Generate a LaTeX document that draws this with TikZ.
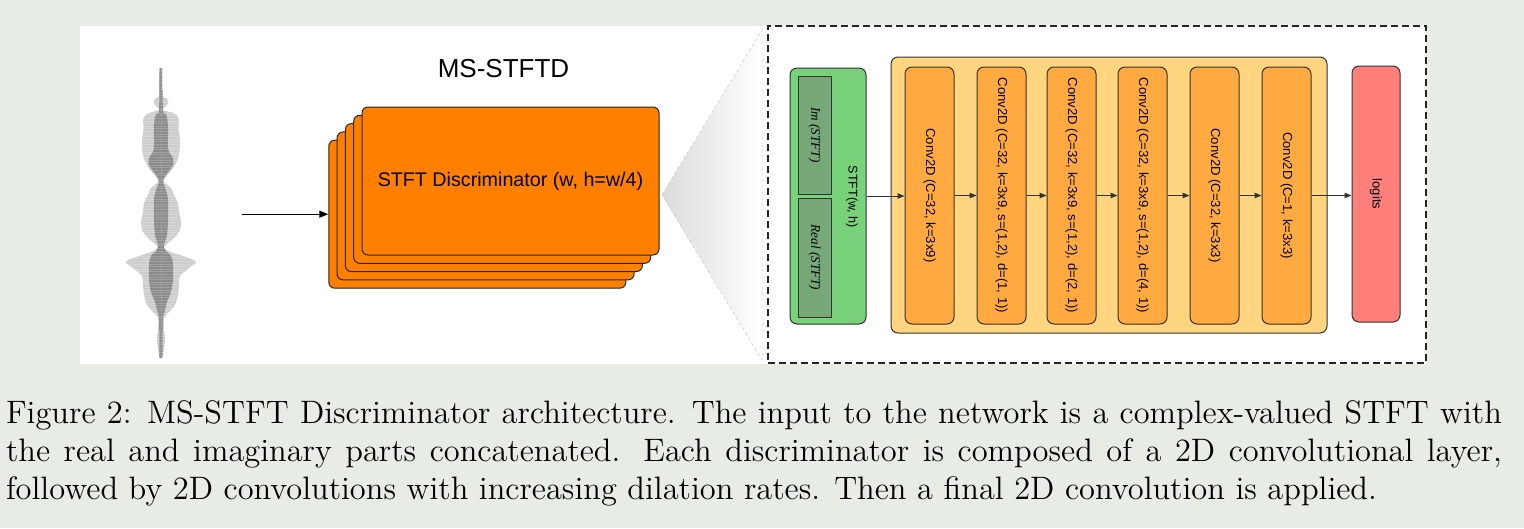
\documentclass[tikz,border=0pt]{standalone}
\usepackage{fontspec}
\setsansfont{Liberation Sans}
\newfontfamily\timesfont{Liberation Serif}
\usetikzlibrary{arrows.meta}
\definecolor{bg}{HTML}{E7EDE4}
\definecolor{edge}{HTML}{333333}
\definecolor{cardor}{HTML}{FF7F00}
\definecolor{stftgreen}{HTML}{77D27A}
\definecolor{ingreen}{HTML}{76A878}
\definecolor{contyellow}{HTML}{FFD580}
\definecolor{convor}{HTML}{FFAA40}
\definecolor{logitred}{HTML}{FF7F7B}
\definecolor{wavelight}{HTML}{CDCDCD}
\definecolor{wavedark}{HTML}{8A8A8A}
\newlength\capw
\newsavebox\capmeasure
\begin{document}
\sbox\capmeasure{\fontsize{12}{14.5}\selectfont followed by 2D convolutions with increasing dilation rates. Then a final 2D convolution is applied.}%
\setlength\capw{\wd\capmeasure}%
\pgfmathsetmacro\capscale{1371/\capw}%
\pgfmathsetlengthmacro\capfull{1496pt/\capscale}%
\begin{tikzpicture}[x=1pt,y=-1pt,
  bx/.style={draw=edge, line width=1pt, rounded corners=7pt, inner sep=0pt},
  card/.style={draw=black!85, line width=1pt, fill=cardor, rounded corners=6pt,
    minimum width=297pt, minimum height=148pt, inner sep=0pt},
  conv/.style={bx, fill=convor, minimum width=49pt, minimum height=257pt,
    font=\sffamily\fontsize{13.1}{15}\selectfont},
  inbox/.style={draw=edge, line width=1pt, fill=ingreen, minimum width=33pt,
    inner sep=0pt, font=\timesfont\itshape\fontsize{13.2}{15}\selectfont},
  lbl/.style={inner sep=0pt, font=\sffamily\fontsize{12.6}{15}\selectfont},
  arr/.style={-{Triangle[length=7pt,width=5.5pt]}, draw=edge, line width=1pt},
  capline/.style={anchor=base west, inner sep=0pt, outer sep=0pt}]
\useasboundingbox (0,0) rectangle (1524,528);
\fill[bg] (0,0) rectangle (1524,528);
\fill[white] (80,26) rectangle (1426,364);

% waveform
\foreach \s in {1,-1}{
  \begin{scope}[shift={(161,0)}, xscale=\s]
    \begin{scope}
      \clip (-0.4,68) -- plot[smooth,tension=0.55] coordinates {(1.5,68) (2,95) (5,98) (7.5,102) (5,106) (2,110) (12,113) (17.5,118) (17.5,130) (19,140) (18,155) (14,165) (9,172) (4,178) (3,182) (10,188) (13,195) (17,203) (18,212) (20,222) (19,230) (13,238) (6,244) (3,248) (10,252) (25,257) (35,262) (28,268) (19,276) (18,285) (17,295) (14,305) (8,312) (3,318) (3,330) (4,340) (1.5,358)} -- (-0.4,358) -- cycle;
      \fill[wavelight] (-1,60) rectangle (40,365);
      \fill[wavedark] (-0.4,68) -- plot[smooth,tension=0.55] coordinates {(1.5,68) (2,110) (5,114) (7,125) (7,145) (8,152) (12,158) (12,165) (8,171) (3,178) (2,182) (5,190) (7,200) (7,220) (6,235) (3,245) (4,250) (10,256) (12,265) (12,280) (10,292) (6,302) (4,310) (2,320) (1.5,358)} -- (-0.4,358) -- cycle;
      \foreach \yy in {69,71.6,...,357} \draw[white,opacity=0.2,line width=0.8pt] (-1,\yy) -- (40,\yy);
    \end{scope}
  \end{scope}
}

% title and stacked cards
\node[font=\sffamily\fontsize{26}{30}\selectfont, inner sep=0pt] (title) at (503.5,69) {MS-STFTD};
\node[card] (c5) at (477.3,214.2) {};
\node[card] (c4) at (485.6,205.9) {};
\node[card] (c3) at (493.9,197.6) {};
\node[card] (c2) at (502.2,189.3) {};
\node[card, font=\sffamily\fontsize{19.7}{23}\selectfont] (c1) at (510.5,181) {STFT Discriminator (w, h=w/4)};
\coordinate (wavein) at (242,214.2);
\draw[-{Triangle[length=9pt,width=7pt]}, line width=1.2pt] (wavein) -- (c5.west);

% zoom wedge
\coordinate (wtip) at (662,195);
\coordinate (wtop) at (762,30);
\coordinate (wbot) at (762,360);
\shade[left color=black!14, right color=white] (wtip) -- (wtop) -- (wbot) -- cycle;
\draw[black!22, dashed, line width=0.5pt] (wtip) -- (wtop) -- (wbot) -- cycle;

% detail box
\node[draw=black!85, dash pattern=on 7pt off 4pt, line width=1.3pt, minimum width=658pt, minimum height=337pt, inner sep=0pt] (zoombox) at (1097,194.5) {};

\node[bx, fill=stftgreen, minimum width=76pt, minimum height=256pt] (green) at (828,196) {};
\node[inbox, minimum height=118pt] (im) at (814.5,135) {\rotatebox{-90}{Im (STFT)}};
\node[inbox, minimum height=119pt] (re) at (814.5,257.5) {\rotatebox{-90}{Real (STFT)}};
\node[lbl] (stftlbl) at (852,197) {\rotatebox{-90}{STFT(w, h)}};

\node[bx, fill=contyellow, minimum width=436pt, minimum height=276pt] (cont) at (1109,195) {};
\node[conv] (k1) at (929.5,195.5) {\rotatebox{-90}{Conv2D (C=32, k=3x9)}};
\node[conv] (k2) at (1001.5,195.5) {\rotatebox{-90}{Conv2D (C=32, k=3x9, s=(1,2), d=(1, 1))}};
\node[conv] (k3) at (1071.5,195.5) {\rotatebox{-90}{Conv2D (C=32, k=3x9, s=(1,2), d=(2, 1))}};
\node[conv] (k4) at (1142.5,195.5) {\rotatebox{-90}{Conv2D (C=32, k=3x9, s=(1,2), d=(4, 1))}};
\node[conv] (k5) at (1214.5,195.5) {\rotatebox{-90}{Conv2D (C=32, k=3x3)}};
\node[conv] (k6) at (1286.5,195.5) {\rotatebox{-90}{Conv2D (C=1, k=3x3)}};
\node[bx, fill=logitred, minimum width=48pt, minimum height=256pt, font=\sffamily\fontsize{13.1}{15}\selectfont] (logits) at (1376,194) {\rotatebox{-90}{logits}};

\draw[arr] (green.east) -- (green.east -| k1.west);
\draw[arr] (k1.east) -- (k2.west);
\draw[arr] (k2.east) -- (k3.west);
\draw[arr] (k3.east) -- (k4.west);
\draw[arr] (k4.east) -- (k5.west);
\draw[arr] (k5.east) -- (k6.west);
\draw[arr] (k6.east) -- (k6.east -| logits.west);

% caption
\node[capline] (cap1) at (6,423) {\scalebox{\capscale}{\fontsize{12}{14.5}\selectfont\makebox[\capfull][s]{Figure 2: MS-STFT Discriminator architecture. The input to the network is a complex-valued STFT with}}};
\node[capline] (cap2) at (6,461) {\scalebox{\capscale}{\fontsize{12}{14.5}\selectfont\makebox[\capfull][s]{the real and imaginary parts concatenated. Each discriminator is composed of a 2D convolutional layer,}}};
\node[capline] (cap3) at (6,499) {\scalebox{\capscale}{\fontsize{12}{14.5}\selectfont followed by 2D convolutions with increasing dilation rates. Then a final 2D convolution is applied.}};
\end{tikzpicture}
\end{document}
